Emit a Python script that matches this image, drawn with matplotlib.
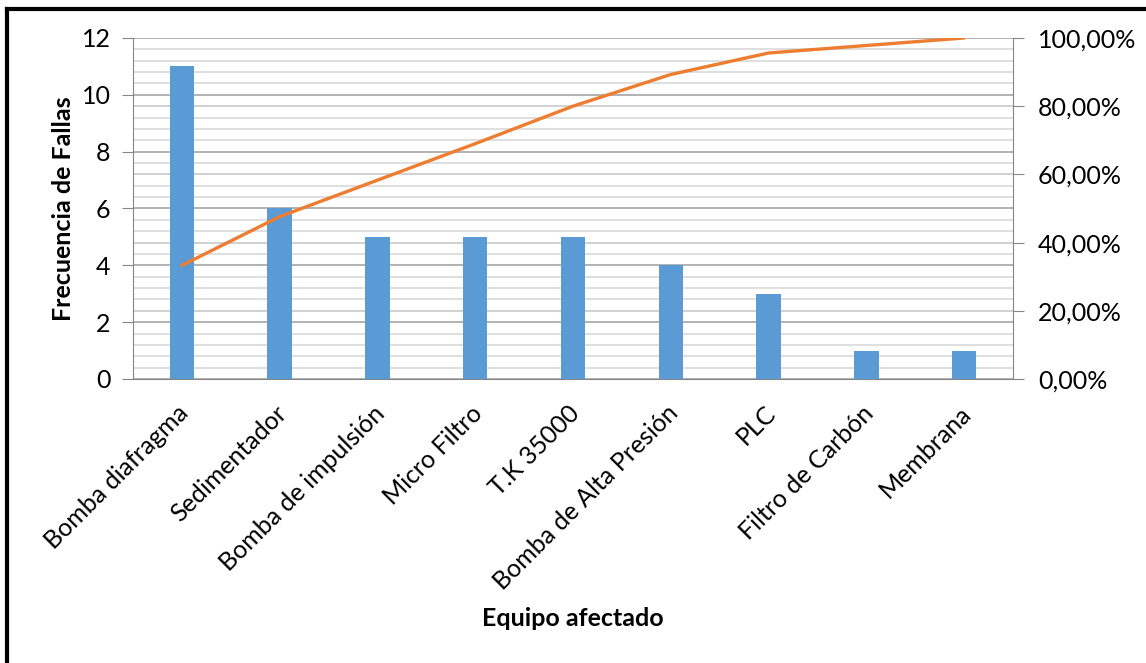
import matplotlib.pyplot as plt
import matplotlib.transforms as mtransforms
from matplotlib.lines import Line2D
from matplotlib.ticker import MultipleLocator, FuncFormatter
import numpy as np

# data
equipos = ['Bomba diafragma', 'Sedimentador', 'Bomba de impulsión', 'Micro Filtro',
           'T.K 35000', 'Bomba de Alta Presión', 'PLC', 'Filtro de Carbón', 'Membrana']
fallas = [11, 6, 5, 5, 5, 4, 3, 1, 1]
acumulado_pct = [33.3, 47.6, 58.3, 69.0, 80.0, 89.3, 95.6, 97.8, 100.0]
pct_ticks = [0, 20, 40, 60, 80, 100]

plt.rcParams['font.family'] = ['Lato', 'DejaVu Sans']
fs = 18

fig = plt.figure(figsize=(11.46, 6.63), dpi=100)
ax = fig.add_axes([0.116, 0.4284, 0.768, 0.5143])
ax2 = ax.twinx()

x = np.arange(len(equipos))
ax.bar(x, fallas, width=0.25, color='#5B9BD5', zorder=3)
ax2.plot(x, acumulado_pct, color='#ED7D31', linewidth=2.4, solid_capstyle='round')

ymax = 12
ax.set_ylim(0, ymax)
ax.set_xlim(-0.5, len(equipos) - 0.5)
ax2.set_ylim(0, 100)

# gridlines: minor every 0.4, major at left ticks and at right-axis ticks
ax.yaxis.set_major_locator(MultipleLocator(2))
ax.yaxis.set_minor_locator(MultipleLocator(0.4))
ax.grid(axis='y', which='minor', color='#d9d9d9', linewidth=1.2, zorder=0)
ax.grid(axis='y', which='major', color='#a6a6a6', linewidth=1.2, zorder=0)
for p in pct_ticks[1:-1]:
    ax.axhline(p / 100 * ymax, color='#a6a6a6', linewidth=1.2, zorder=0)
ax.set_axisbelow(True)

ax2.set_yticks(pct_ticks)
ax2.yaxis.set_major_formatter(FuncFormatter(lambda v, pos: f'{v:.2f}%'.replace('.', ',')))

for a in (ax, ax2):
    for s in a.spines.values():
        s.set_visible(False)
ax.spines['left'].set_visible(True)
ax.spines['left'].set_color('#868686')
ax.spines['bottom'].set_visible(True)
ax.spines['bottom'].set_color('#868686')
ax2.spines['right'].set_visible(True)
ax2.spines['right'].set_color('#868686')

ax.tick_params(axis='y', which='major', length=8, color='#868686', labelsize=fs, pad=8)
ax.tick_params(axis='y', which='minor', length=0)
ax.tick_params(axis='x', length=0, labelsize=fs, pad=16)
ax2.tick_params(axis='y', length=8, color='#868686', labelsize=fs, pad=10)

ax.set_xticks(x)
ax.set_xticklabels(equipos, rotation=45, ha='right', rotation_mode='anchor')
shift = mtransforms.ScaledTranslation(-5 / 100, 0, fig.dpi_scale_trans)
for lbl in ax.get_xticklabels():
    lbl.set_transform(lbl.get_transform() + shift)

ax.set_ylabel('Frecuencia de Fallas', fontsize=fs, fontweight='bold', labelpad=5)
fig.text(0.5, 1 - 619 / 663, 'Equipo afectado', fontsize=fs, fontweight='bold',
         ha='center', va='center')

# outer frame (cut by the image edge on the right and bottom)
fig.add_artist(Line2D([0.0065, 0.0065], [0, 0.9865], transform=fig.transFigure,
                      color='black', linewidth=3))
fig.add_artist(Line2D([0.0065, 1], [0.9865, 0.9865], transform=fig.transFigure,
                      color='black', linewidth=3))

plt.savefig('out.png', dpi=100)
